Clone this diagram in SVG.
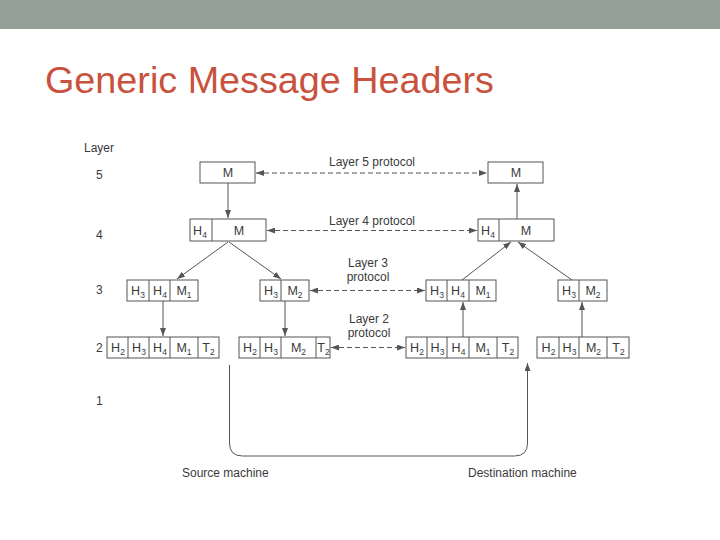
<svg xmlns="http://www.w3.org/2000/svg" width="720" height="540" viewBox="0 0 720 540">
<defs>
<marker id="arr" viewBox="0 0 8 6" refX="8" refY="3" markerWidth="8" markerHeight="6" markerUnits="userSpaceOnUse" orient="auto-start-reverse">
<path d="M0,0 L8,3 L0,6 z" fill="#555"/>
</marker>
<style>
.bx{fill:none;stroke:#555;stroke-width:1}
.dv{stroke:#555;stroke-width:1}
.t{font-family:"Liberation Sans",Arial,sans-serif;font-size:12.5px;fill:#3a3a3a;text-anchor:middle}
.s{font-size:8.5px}
.lab{font-family:"Liberation Sans",Arial,sans-serif;font-size:12px;fill:#3a3a3a}
.pl{font-family:"Liberation Sans",Arial,sans-serif;font-size:12px;fill:#3a3a3a;text-anchor:middle}
.ln{fill:none;stroke:#555;stroke-width:1}
.da{fill:none;stroke:#555;stroke-width:1;stroke-dasharray:5 3}
</style>
</defs>
<rect x="0" y="0" width="720" height="540" fill="#ffffff"/>
<rect x="0" y="0" width="720" height="29" fill="#93a098"/>
<text x="45" y="93" font-family="'Liberation Sans',Arial,sans-serif" font-size="37" fill="#c8523d" textLength="449" lengthAdjust="spacingAndGlyphs">Generic Message Headers</text>

<g id="layer-labels">
<text class="lab" x="84" y="152">Layer</text>
<text class="lab" x="96" y="179">5</text>
<text class="lab" x="96" y="239">4</text>
<text class="lab" x="96" y="294">3</text>
<text class="lab" x="96" y="352">2</text>
<text class="lab" x="96" y="405">1</text>
</g>

<g id="protocol-labels">
<text class="pl" x="372" y="166">Layer 5 protocol</text>
<text class="pl" x="372" y="225">Layer 4 protocol</text>
<text class="pl" x="368" y="267">Layer 3</text>
<text class="pl" x="368" y="281">protocol</text>
<text class="pl" x="369" y="323">Layer 2</text>
<text class="pl" x="369" y="337">protocol</text>
<text class="lab" x="182" y="477">Source machine</text>
<text class="lab" x="468" y="477">Destination machine</text>
</g>

<g id="src-l5">
<rect class="bx" x="200" y="162" width="55" height="21"/>
<text class="t" x="228" y="177">M</text>
</g>
<g id="dst-l5">
<rect class="bx" x="488" y="162" width="55" height="21"/>
<text class="t" x="516" y="177">M</text>
</g>

<g id="src-l4">
<rect class="bx" x="190" y="219" width="76" height="22"/>
<line class="dv" x1="212" y1="219" x2="212" y2="241"/>
<text class="t" x="200" y="235">H<tspan class="s" dy="3">4</tspan></text>
<text class="t" x="239" y="235">M</text>
</g>
<g id="dst-l4">
<rect class="bx" x="478" y="219" width="76" height="22"/>
<line class="dv" x1="499" y1="219" x2="499" y2="241"/>
<text class="t" x="488" y="235">H<tspan class="s" dy="3">4</tspan></text>
<text class="t" x="526" y="235">M</text>
</g>

<g id="src-l3-a">
<rect class="bx" x="127" y="280" width="71" height="21"/>
<line class="dv" x1="149" y1="280" x2="149" y2="301"/>
<line class="dv" x1="170" y1="280" x2="170" y2="301"/>
<text class="t" x="138" y="295">H<tspan class="s" dy="3">3</tspan></text>
<text class="t" x="160" y="295">H<tspan class="s" dy="3">4</tspan></text>
<text class="t" x="184" y="295">M<tspan class="s" dy="3">1</tspan></text>
</g>
<g id="src-l3-b">
<rect class="bx" x="260" y="280" width="49" height="21"/>
<line class="dv" x1="281" y1="280" x2="281" y2="301"/>
<text class="t" x="271" y="295">H<tspan class="s" dy="3">3</tspan></text>
<text class="t" x="295" y="295">M<tspan class="s" dy="3">2</tspan></text>
</g>
<g id="dst-l3-a">
<rect class="bx" x="426" y="280" width="70" height="21"/>
<line class="dv" x1="447" y1="280" x2="447" y2="301"/>
<line class="dv" x1="469" y1="280" x2="469" y2="301"/>
<text class="t" x="437" y="295">H<tspan class="s" dy="3">3</tspan></text>
<text class="t" x="458" y="295">H<tspan class="s" dy="3">4</tspan></text>
<text class="t" x="483" y="295">M<tspan class="s" dy="3">1</tspan></text>
</g>
<g id="dst-l3-b">
<rect class="bx" x="558" y="280" width="49" height="21"/>
<line class="dv" x1="579" y1="280" x2="579" y2="301"/>
<text class="t" x="569" y="295">H<tspan class="s" dy="3">3</tspan></text>
<text class="t" x="593" y="295">M<tspan class="s" dy="3">2</tspan></text>
</g>

<g id="src-l2-a">
<rect class="bx" x="107" y="337" width="112" height="21"/>
<line class="dv" x1="128" y1="337" x2="128" y2="358"/>
<line class="dv" x1="149" y1="337" x2="149" y2="358"/>
<line class="dv" x1="170" y1="337" x2="170" y2="358"/>
<line class="dv" x1="198" y1="337" x2="198" y2="358"/>
<text class="t" x="118" y="352">H<tspan class="s" dy="3">2</tspan></text>
<text class="t" x="139" y="352">H<tspan class="s" dy="3">3</tspan></text>
<text class="t" x="160" y="352">H<tspan class="s" dy="3">4</tspan></text>
<text class="t" x="184" y="352">M<tspan class="s" dy="3">1</tspan></text>
<text class="t" x="208.5" y="352">T<tspan class="s" dy="3">2</tspan></text>
</g>
<g id="src-l2-b">
<rect class="bx" x="239" y="337" width="91" height="21"/>
<line class="dv" x1="260" y1="337" x2="260" y2="358"/>
<line class="dv" x1="281" y1="337" x2="281" y2="358"/>
<line class="dv" x1="316" y1="337" x2="316" y2="358"/>
<text class="t" x="250" y="352">H<tspan class="s" dy="3">2</tspan></text>
<text class="t" x="271" y="352">H<tspan class="s" dy="3">3</tspan></text>
<text class="t" x="298.5" y="352">M<tspan class="s" dy="3">2</tspan></text>
<text class="t" x="323.5" y="352">T<tspan class="s" dy="3">2</tspan></text>
</g>
<g id="dst-l2-a">
<rect class="bx" x="406" y="337" width="112" height="21"/>
<line class="dv" x1="427" y1="337" x2="427" y2="358"/>
<line class="dv" x1="447" y1="337" x2="447" y2="358"/>
<line class="dv" x1="469" y1="337" x2="469" y2="358"/>
<line class="dv" x1="497" y1="337" x2="497" y2="358"/>
<text class="t" x="417" y="352">H<tspan class="s" dy="3">2</tspan></text>
<text class="t" x="437.5" y="352">H<tspan class="s" dy="3">3</tspan></text>
<text class="t" x="458.5" y="352">H<tspan class="s" dy="3">4</tspan></text>
<text class="t" x="483" y="352">M<tspan class="s" dy="3">1</tspan></text>
<text class="t" x="508" y="352">T<tspan class="s" dy="3">2</tspan></text>
</g>
<g id="dst-l2-b">
<rect class="bx" x="537" y="337" width="92" height="21"/>
<line class="dv" x1="559" y1="337" x2="559" y2="358"/>
<line class="dv" x1="579" y1="337" x2="579" y2="358"/>
<line class="dv" x1="607" y1="337" x2="607" y2="358"/>
<text class="t" x="548.5" y="352">H<tspan class="s" dy="3">2</tspan></text>
<text class="t" x="569.5" y="352">H<tspan class="s" dy="3">3</tspan></text>
<text class="t" x="593.5" y="352">M<tspan class="s" dy="3">2</tspan></text>
<text class="t" x="618.5" y="352">T<tspan class="s" dy="3">2</tspan></text>
</g>

<g id="connectors">
<line class="da" x1="256" y1="173" x2="487" y2="173" marker-start="url(#arr)" marker-end="url(#arr)"/>
<line class="da" x1="267" y1="230.5" x2="477" y2="230.5" marker-start="url(#arr)" marker-end="url(#arr)"/>
<line class="da" x1="310" y1="290.5" x2="425" y2="290.5" marker-start="url(#arr)" marker-end="url(#arr)"/>
<line class="da" x1="331" y1="347.5" x2="405" y2="347.5" marker-start="url(#arr)" marker-end="url(#arr)"/>

<line class="ln" x1="228" y1="183" x2="228" y2="218" marker-end="url(#arr)"/>
<line class="ln" x1="517" y1="219" x2="517" y2="184" marker-end="url(#arr)"/>

<line class="ln" x1="228" y1="242" x2="177" y2="279" marker-end="url(#arr)"/>
<line class="ln" x1="229" y1="242" x2="281" y2="279" marker-end="url(#arr)"/>
<line class="ln" x1="462" y1="280" x2="511" y2="242" marker-end="url(#arr)"/>
<line class="ln" x1="572" y1="280" x2="518" y2="242" marker-end="url(#arr)"/>

<line class="ln" x1="163" y1="301" x2="163" y2="336" marker-end="url(#arr)"/>
<line class="ln" x1="285" y1="301" x2="285" y2="336" marker-end="url(#arr)"/>
<line class="ln" x1="463" y1="337" x2="463" y2="302" marker-end="url(#arr)"/>
<line class="ln" x1="582" y1="337" x2="582" y2="302" marker-end="url(#arr)"/>

<path class="ln" d="M229.5,365 V443 Q229.5,456 242.5,456 H514.5 Q527.5,456 527.5,443 V363" marker-end="url(#arr)"/>
</g>
</svg>
